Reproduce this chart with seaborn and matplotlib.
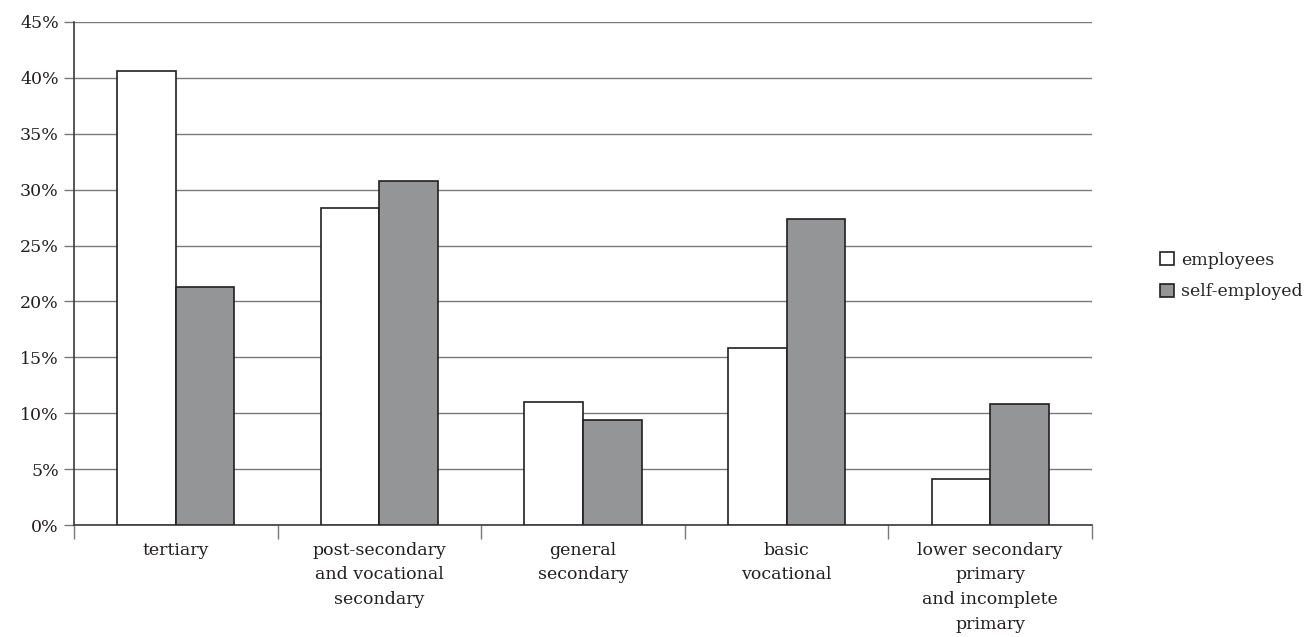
import matplotlib
matplotlib.use("Agg")
import matplotlib.pyplot as plt
from matplotlib.ticker import FixedLocator, PercentFormatter
import pandas as pd
import seaborn as sns

# values (%)
categories = ["tertiary",
              "post-secondary\nand vocational\nsecondary",
              "general\nsecondary",
              "basic\nvocational",
              "lower secondary\nprimary\nand incomplete\nprimary"]
employees = [40.6, 28.4, 11.0, 15.8, 4.1]
self_employed = [21.3, 30.8, 9.4, 27.4, 10.8]
groups = ["employees", "self-employed"]

df = pd.DataFrame({
    "category": categories * 2,
    "share": employees + self_employed,
    "group": [groups[0]] * len(categories) + [groups[1]] * len(categories),
})

sns.set_theme(style="white")
plt.rcParams["font.family"] = ["DejaVu Serif"]

edge = "#231f20"
fig = plt.figure(figsize=(13.08, 6.37), dpi=100)
ax = fig.add_axes([0.0566, 0.1758, 0.7782, 0.7897])

sns.barplot(data=df, x="category", y="share", hue="group",
            palette={"employees": "white", "self-employed": "#939598"},
            edgecolor=edge, linewidth=1.2, width=0.575, ax=ax, zorder=3)

ax.set_ylim(0, 45)
ax.set_xlim(-0.5, len(categories) - 0.5)
ax.set_yticks(range(0, 50, 5))
ax.yaxis.set_major_formatter(PercentFormatter(decimals=0))
ax.yaxis.grid(True, color="#7a7a7a", linewidth=1.0, zorder=0)
ax.set_axisbelow(True)

# category boundaries get the tick marks, labels sit in the middle
ax.xaxis.set_minor_locator(FixedLocator([i - 0.5 for i in range(len(categories) + 1)]))
ax.tick_params(axis="x", which="major", length=0, pad=12, labelsize=12.5)
ax.tick_params(axis="x", which="minor", bottom=True, length=10, width=1,
               color="#7a7a7a", direction="out")
ax.tick_params(axis="y", left=True, length=7, width=1, color="#7a7a7a",
               direction="out", labelsize=12.5, pad=4)
plt.setp(ax.get_xticklabels(), linespacing=1.6)
ax.tick_params(axis="both", labelcolor="#231f20")

for s in ["top", "right"]:
    ax.spines[s].set_visible(False)
for s in ["left", "bottom"]:
    ax.spines[s].set_color("#3a3a3a")
    ax.spines[s].set_linewidth(1.2)

ax.set_xlabel("")
ax.set_ylabel("")
ax.legend(title=None, frameon=False, loc="center left", bbox_to_anchor=(1.067, 0.495),
          fontsize=12.5, handlelength=0.8, handleheight=0.8, handletextpad=0.4,
          labelspacing=0.85, borderaxespad=0.0, borderpad=0.0)

fig.savefig("out.png", dpi=100)
